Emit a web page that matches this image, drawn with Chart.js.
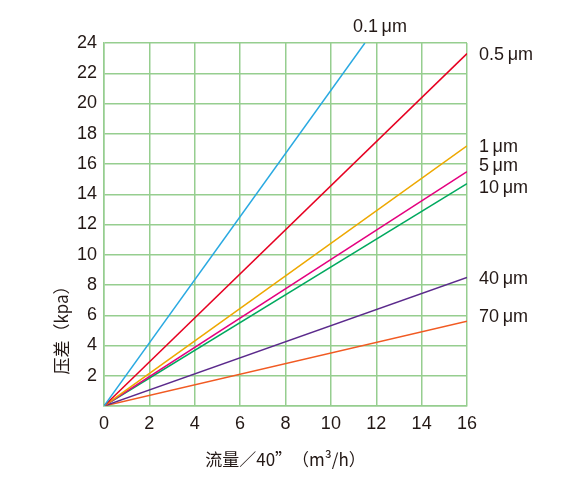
<!DOCTYPE html>
<html>
<head>
<meta charset="utf-8">
<script src="https://cdn.jsdelivr.net/npm/chart.js@4"></script>
<style>
  html, body { margin: 0; padding: 0; background: #fff; }
  #wrap { width: 585px; height: 482px; }
</style>
</head>
<body>
<div id="wrap"><canvas id="dpChart" width="585" height="482"></canvas></div>
<script>
// 过滤精度 (µm) 与终点读数
const sizes = ['0.1', '0.5', '1', '5', '10', '40', '70'];
const endFlow = [11.5, 16, 16, 16, 16, 16, 16];      // m³/h
const endDp = [24, 23.3, 17.2, 15.5, 14.7, 8.5, 5.6]; // kpa
const lineColors = ['#29a9e1', '#e60021', '#eea800', '#e4007f', '#00a95f', '#5b2a8c', '#f15a22'];
const labelShift = [0, 1, 1, -6, 4, 2, -4]; // 标签上下微调 (px)

const xTicks = [0, 2, 4, 6, 8, 10, 12, 14, 16];
const yTicks = [0, 2, 4, 6, 8, 10, 12, 14, 16, 18, 20, 22, 24];

const gridColor = '#96ce8f';
const textColor = '#231815';
const numFont = '"Liberation Sans", Arial, sans-serif';
const cjkFont = '"Noto Sans CJK SC", "Liberation Sans", sans-serif';

// 线末端标签 + 纵轴标题
const endLabels = {
    id: 'endLabels',
    afterDatasetsDraw(chart) {
        const ctx = chart.ctx;
        const area = chart.chartArea;
        ctx.save();
        ctx.fillStyle = textColor;
        ctx.font = '18px ' + numFont;
        ctx.textBaseline = 'middle';
        ctx.textAlign = 'left';
        chart.data.datasets.forEach((ds, i) => {
            const pts = chart.getDatasetMeta(i).data;
            const last = pts[pts.length - 1];
            const txt = sizes[i] + '\u2009μm';
            if (endFlow[i] < xTicks[xTicks.length - 1]) {
                // 顶部越出的线，标签放在上方
                ctx.fillText(txt, last.x - 12, last.y - 16);
            } else {
                ctx.fillText(txt, area.right + 12, last.y + labelShift[i]);
            }
        });

        // 纵轴标题
        ctx.font = '17px ' + cjkFont;
        ctx.textAlign = 'center';
        ctx.translate(62, 326);
        ctx.rotate(-Math.PI / 2);
        ctx.fillText('压差（kpa）', 0, 0);
        ctx.restore();
    }
};

const ctx = document.getElementById('dpChart').getContext('2d');

new Chart(ctx, {
    type: 'line',
    data: {
        datasets: sizes.map((s, i) => ({
            label: s + ' μm',
            data: [{ x: 0, y: 0 }, { x: endFlow[i], y: endDp[i] }],
            borderColor: lineColors[i],
            borderWidth: 1.5,
            pointRadius: 0,
            fill: false,
            tension: 0
        }))
    },
    options: {
        responsive: false,
        animation: false,
        layout: {
            padding: { top: 43, right: 118, left: 0, bottom: 0 }
        },
        plugins: {
            legend: { display: false },
            tooltip: { enabled: false }
        },
        scales: {
            x: {
                type: 'linear',
                min: 0,
                max: 16,
                afterBuildTicks: (axis) => { axis.ticks = xTicks.map(v => ({ value: v })); },
                afterFit: (axis) => { axis.height = 76; },
                ticks: {
                    color: textColor,
                    font: { family: numFont, size: 18 },
                    padding: 7
                },
                grid: { color: gridColor, lineWidth: 1.5, drawTicks: false },
                border: { color: gridColor, width: 1.5 },
                title: {
                    display: true,
                    text: '流量／40”（m³/h）',
                    color: textColor,
                    font: { family: cjkFont, size: 17 },
                    padding: { top: 4, bottom: 12 }
                }
            },
            y: {
                min: 0,
                max: 24,
                afterBuildTicks: (axis) => { axis.ticks = yTicks.map(v => ({ value: v })); },
                afterFit: (axis) => { axis.width = 104; },
                ticks: {
                    color: textColor,
                    font: { family: numFont, size: 18 },
                    padding: 7,
                    callback: (v) => (v === 0 ? '' : v)
                },
                grid: { color: gridColor, lineWidth: 1.5, drawTicks: false },
                border: { color: gridColor, width: 1.5 }
            }
        }
    },
    plugins: [endLabels]
});
</script>
</body>
</html>
